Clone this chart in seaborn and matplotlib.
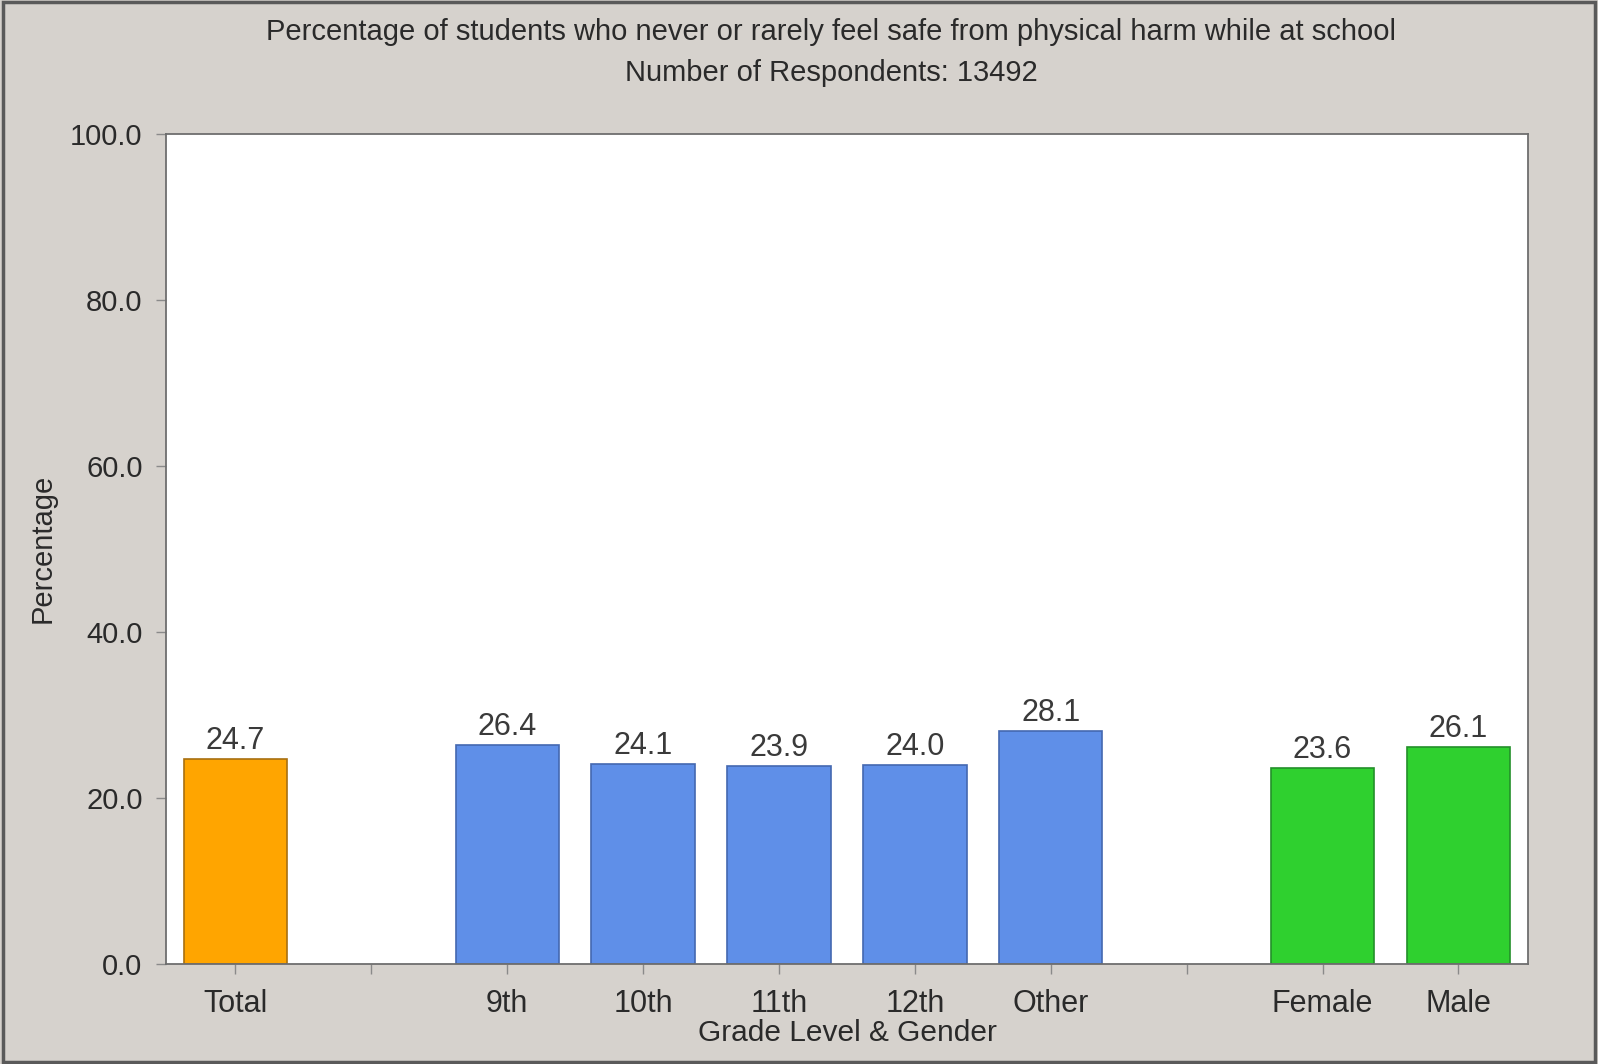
import numpy as np
import pandas as pd
import seaborn as sns
import matplotlib.pyplot as plt
from matplotlib.patches import Rectangle

# data
groups = ["Total", "9th", "10th", "11th", "12th", "Other", "Female", "Male"]
values = [24.7, 26.4, 24.1, 23.9, 24.0, 28.1, 23.6, 26.1]
slot_order = ["Total", " ", "9th", "10th", "11th", "12th", "Other", "  ", "Female", "Male"]
y_ticks = [0, 20, 40, 60, 80, 100]

title = "Percentage of students who never or rarely feel safe from physical harm while at school"
subtitle = "Number of Respondents: 13492"

ORANGE = "#ffa500"
BLUE = "#5f8fe8"
GREEN = "#2fd02f"
bar_colors = {"Total": ORANGE, "9th": BLUE, "10th": BLUE, "11th": BLUE, "12th": BLUE,
              "Other": BLUE, "Female": GREEN, "Male": GREEN}
edge_colors = {ORANGE: "#a87010", BLUE: "#4468b0", GREEN: "#23902a"}

df = pd.DataFrame({"Group": groups, "Percentage": values})

sns.set_style("ticks")
plt.rcParams["font.family"] = ["Liberation Sans", "DejaVu Sans"]

BG = "#d6d2cd"
TXT = "#2a2a2a"

fig = plt.figure(figsize=(15.98, 10.64), dpi=100, facecolor=BG)
ax = fig.add_axes([0.104, 0.094, 0.852, 0.7805])
ax.set_facecolor("white")

sns.barplot(data=df, x="Group", y="Percentage", hue="Group", order=slot_order,
            palette=bar_colors, legend=False, width=0.76, saturation=1, ax=ax)

for patch in ax.patches:
    fc = patch.get_facecolor()
    hexc = "#%02x%02x%02x" % tuple(int(round(c * 255)) for c in fc[:3])
    patch.set_edgecolor(edge_colors.get(hexc, "#555555"))
    patch.set_linewidth(1.2)

for cont in ax.containers:
    ax.bar_label(cont, fmt="%.1f", padding=2, fontsize=22, color="#3a3a3a")

ax.set_xlim(-0.51, len(slot_order) - 0.49)
ax.set_ylim(0, 100)
ax.set_yticks(y_ticks)
ax.set_yticklabels([f"{v:.1f}" for v in y_ticks])
ax.tick_params(axis="both", direction="out", length=7, width=1, color="#8a8a8a",
               labelcolor=TXT)
ax.tick_params(axis="y", pad=10, labelsize=21)
ax.tick_params(axis="x", pad=11, labelsize=22)
for sp in ax.spines.values():
    sp.set_visible(True)
    sp.set_color("#6e6e6e")
    sp.set_linewidth(1.3)

ax.set_xlabel("Grade Level & Gender", fontsize=21.5, color=TXT, labelpad=0)
ax.set_ylabel("Percentage", fontsize=21, color=TXT, labelpad=10)

fig.text(0.52, 0.970, title, ha="center", va="center", fontsize=21, color=TXT)
fig.text(0.52, 0.931, subtitle, ha="center", va="center", fontsize=21, color=TXT)

# window-style frame round the figure
fig.patches.append(Rectangle((0.002, 0.002), 0.996, 0.996, transform=fig.transFigure,
                             fill=False, edgecolor="#5a5a5a", linewidth=2.5))

fig.savefig("out.png", dpi=100, facecolor=BG)
